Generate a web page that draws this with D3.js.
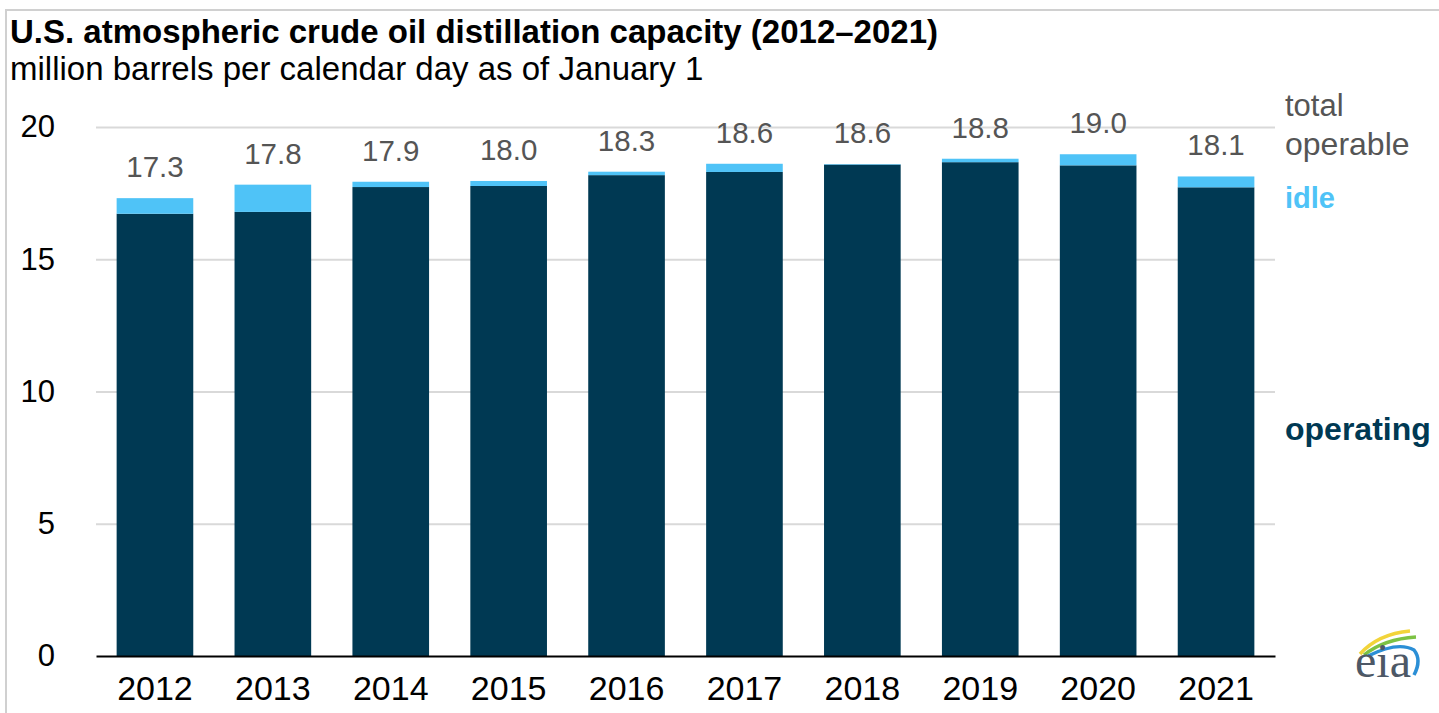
<!DOCTYPE html>
<html>
<head>
<meta charset="utf-8">
<script src="https://cdn.jsdelivr.net/npm/d3@7"></script>
<style>
  body { margin: 0; background: #fff; }
  svg { display: block; font-family: "Liberation Sans", Arial, sans-serif; }
</style>
</head>
<body>
<div id="chart"></div>
<script>
// data (million b/cd, Jan 1)
const years = ['2012','2013','2014','2015','2016','2017','2018','2019','2020','2021']
const operating = [16.72, 16.79, 17.73, 17.77, 18.18, 18.30, 18.58, 18.67, 18.55, 17.72]
const idle = [0.59, 1.03, 0.20, 0.19, 0.13, 0.31, 0.02, 0.13, 0.42, 0.41]
const yTicks = [0, 5, 10, 15, 20]

const W = 1439, H = 713
const margin = {top: 127, right: 164, bottom: 57, left: 96}
const width = W - margin.left - margin.right
const height = H - margin.top - margin.bottom

const darkBlue = '#003953'
const lightBlue = '#4fc3f7'
const grey = '#555555'

const svg = d3.select('#chart').append('svg')
    .attr('width', W)
    .attr('height', H)

// light frame
svg.append('rect')
    .attr('x', 6).attr('y', 10)
    .attr('width', W + 10).attr('height', H + 10)
    .attr('fill', 'none')
    .attr('stroke', '#d0d0d0')
    .attr('stroke-width', 2)

// titles
svg.append('text')
    .attr('x', 10).attr('y', 43)
    .attr('font-size', 33)
    .attr('font-weight', 'bold')
    .attr('fill', '#000')
    .text('U.S. atmospheric crude oil distillation capacity (2012–2021)')

svg.append('text')
    .attr('x', 10).attr('y', 80)
    .attr('font-size', 33)
    .attr('fill', '#000')
    .text('million barrels per calendar day as of January 1')

const g = svg.append('g')
    .attr('transform', `translate(${margin.left},${margin.top})`)

const x = d3.scaleBand()
    .domain(years)
    .range([0, width])
    .paddingInner(0.35)
    .paddingOuter(0.175)

const y = d3.scaleLinear()
    .domain([0, 20])
    .range([height, 0])

// gridlines
g.append('g')
    .call(d3.axisLeft(y).tickValues(yTicks.filter(d => d > 0)).tickSize(-width).tickFormat(''))
    .call(a => a.select('.domain').remove())
    .selectAll('line')
    .attr('stroke', '#d9d9d9')
    .attr('stroke-width', 2)

// y labels
g.append('g')
    .call(d3.axisLeft(y).tickValues(yTicks).tickSize(0).tickPadding(41))
    .call(a => a.select('.domain').remove())
    .selectAll('text')
    .attr('font-size', 31)
    .attr('font-family', '"Liberation Sans", Arial, sans-serif')
    .attr('fill', '#000')

const rows = years.map((yr, i) => ({year: yr, op: operating[i], idle: idle[i], total: operating[i] + idle[i]}))

// operating bars
g.selectAll('.op')
    .data(rows)
    .join('rect')
    .attr('class', 'op')
    .attr('x', d => x(d.year))
    .attr('y', d => y(d.op))
    .attr('width', x.bandwidth())
    .attr('height', d => height - y(d.op))
    .attr('fill', darkBlue)

// idle bars stacked on top
g.selectAll('.idle')
    .data(rows)
    .join('rect')
    .attr('class', 'idle')
    .attr('x', d => x(d.year))
    .attr('y', d => y(d.total))
    .attr('width', x.bandwidth())
    .attr('height', d => y(d.op) - y(d.total))
    .attr('fill', lightBlue)

// total labels
g.selectAll('.tot')
    .data(rows)
    .join('text')
    .attr('class', 'tot')
    .attr('x', d => x(d.year) + x.bandwidth() / 2)
    .attr('y', d => y(d.total) - 21)
    .attr('text-anchor', 'middle')
    .attr('font-size', 29.5)
    .attr('fill', grey)
    .text(d => d.total.toFixed(1))

// x axis
g.append('g')
    .attr('transform', `translate(0,${height})`)
    .call(d3.axisBottom(x).tickSize(0).tickPadding(20))
    .call(a => a.select('.domain').attr('stroke', '#000').attr('stroke-width', 2))
    .selectAll('text')
    .attr('font-size', 34)
    .attr('font-family', '"Liberation Sans", Arial, sans-serif')
    .attr('fill', '#000')

// legend labels at right
const lx = margin.left + width + 10
svg.append('text').attr('x', lx).attr('y', 116).attr('font-size', 31).attr('fill', grey).text('total')
svg.append('text').attr('x', lx).attr('y', 155).attr('font-size', 32).attr('fill', grey).text('operable')
svg.append('text').attr('x', lx).attr('y', 208).attr('font-size', 29).attr('font-weight', 'bold').attr('fill', lightBlue).text('idle')
svg.append('text').attr('x', lx).attr('y', 440).attr('font-size', 32).attr('font-weight', 'bold').attr('fill', darkBlue).text('operating')

// eia logo
const logo = svg.append('g').attr('transform', 'translate(1354,628)')
logo.append('path').attr('d', 'M6,26 Q24,6 56,3').attr('fill', 'none').attr('stroke', '#f2d43a').attr('stroke-width', 3.5)
logo.append('path').attr('d', 'M10,27 Q30,11 62,9').attr('fill', 'none').attr('stroke', '#7cc243').attr('stroke-width', 3.5)
logo.append('path').attr('d', 'M14,28 Q44,13 60,22 Q68,32 60,47').attr('fill', 'none').attr('stroke', '#2b8fd6').attr('stroke-width', 3.5)
logo.append('text')
    .attr('x', 1).attr('y', 49)
    .attr('font-family', '"Liberation Serif", "DejaVu Serif", serif')
    .attr('font-size', 48)
    .attr('fill', '#4d5866')
    .text('eia')
</script>
</body>
</html>
